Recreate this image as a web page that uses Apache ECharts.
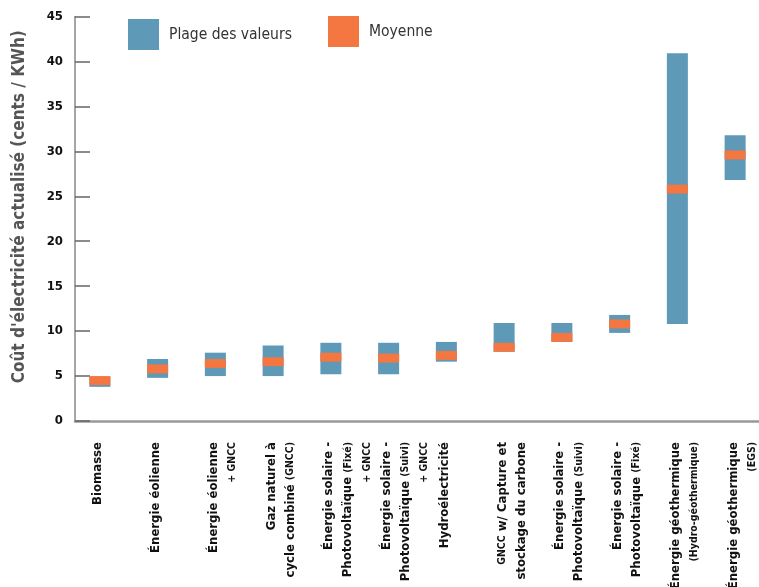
<!DOCTYPE html>
<html>
<head>
<meta charset="utf-8">
<script src="https://cdn.jsdelivr.net/npm/echarts@6/dist/echarts.min.js"></script>
<style>html,body{margin:0;padding:0;background:#fff}#c{width:759px;height:587px}</style>
</head>
<body>
<div id="c"></div>
<script>
const categories = [
  "Biomasse",
  "Énergie éolienne",
  "Énergie éolienne\n{s|+ GNCC}",
  "Gaz naturel à\ncycle combiné {s|(GNCC)}",
  "Énergie solaire -\nPhotovoltaïque {s|(Fixé)}\n{s|+ GNCC}",
  "Énergie solaire -\nPhotovoltaïque {s|(Suivi)}\n{s|+ GNCC}",
  "Hydroélectricité",
  "{s|GNCC} w/ Capture et\nstockage du carbone",
  "Énergie solaire -\nPhotovoltaïque {s|(Suivi)}",
  "Énergie solaire -\nPhotovoltaïque {s|(Fixé)}",
  "Énergie géothermique\n{s|(Hydro-géothermique)}",
  "Énergie géothermique\n{s|(EGS)}"
];
const minValues  = [3.8, 4.8, 5.0, 5.0, 5.2, 5.2, 6.6, 7.7, 8.8, 9.8, 10.8, 26.8];
const maxValues  = [4.9, 6.9, 7.6, 8.4, 8.7, 8.7, 8.8, 10.9, 10.9, 11.8, 40.9, 31.8];
const meanValues = [4.5, 5.8, 6.4, 6.6, 7.1, 7.0, 7.3, 8.2, 9.3, 10.8, 25.8, 29.6];
const meanBand = 0.5;
const yTicks = { min: 0, max: 45, interval: 5 };
const seriesNames = ["Plage des valeurs", "Moyenne"];

const FONT = "'DejaVu Sans Condensed', 'Liberation Sans Narrow', sans-serif";
const BAR_W = 21, BAR_OFF = -4;
const LH = 19;

function rectItem(lowIdx, highIdx) {
  return function (params, api) {
    const x = api.value(0);
    const lo = api.coord([x, api.value(lowIdx)]);
    const hi = api.coord([x, api.value(highIdx)]);
    return {
      type: 'rect',
      shape: { x: lo[0] - BAR_W / 2 + BAR_OFF, y: hi[1], width: BAR_W, height: lo[1] - hi[1] },
      style: api.style()
    };
  };
}

const rangeData = categories.map((c, i) => [i, minValues[i], maxValues[i]]);
const meanData = categories.map((c, i) => [i, meanValues[i] - meanBand, meanValues[i] + meanBand]);

const chart = echarts.init(document.getElementById('c'), null, { renderer: 'canvas' });
chart.setOption({
  animation: false,
  backgroundColor: '#fff',
  textStyle: { fontFamily: FONT },
  legend: [
    { data: [seriesNames[0]], left: 128, top: 19, padding: 0, itemWidth: 31, itemHeight: 31, icon: 'rect',
      textStyle: { fontFamily: FONT, fontSize: 15.5, color: '#333', padding: [0, 0, 0, 5] } },
    { data: [seriesNames[1]], left: 328, top: 16, padding: 0, itemWidth: 31, itemHeight: 31, icon: 'rect',
      textStyle: { fontFamily: FONT, fontSize: 15.5, color: '#333', padding: [0, 0, 0, 5] } }
  ],
  grid: { left: 75, right: -9, top: 16.5, bottom: 166, containLabel: false, outerBoundsMode: 'none' },
  xAxis: {
    type: 'category',
    data: categories,
    axisLine: { lineStyle: { color: '#999', width: 2.5 } },
    axisTick: { inside: true, length: 10, lineStyle: { color: '#222', width: 1.5 } },
    axisLabel: {
      rotate: 90, interval: 0, margin: 21,
      verticalAlign: 'top',
      fontFamily: FONT, fontWeight: 'bold', fontSize: 13, color: '#111', lineHeight: LH,
      padding: [-(LH / 2 + 6), 0, 0, 0],
      rich: { s: { fontFamily: FONT, fontWeight: 'bold', fontSize: 10.5, color: '#111', lineHeight: LH } }
    }
  },
  yAxis: {
    type: 'value', min: yTicks.min, max: yTicks.max, interval: yTicks.interval,
    name: "Coût d'électricité actualisé (cents / KWh)",
    nameLocation: 'middle', nameGap: 47,
    nameTextStyle: { fontFamily: FONT, fontWeight: 'bold', fontSize: 17, color: '#555', padding: [0, 0, 0, 24] },
    axisLine: { show: true, lineStyle: { color: '#888', width: 1.5 } },
    axisTick: { show: true, inside: true, length: 15, lineStyle: { color: '#666', width: 1.5 } },
    axisLabel: { fontFamily: FONT, fontWeight: 'bold', fontSize: 13, color: '#111', margin: 12 },
    splitLine: { show: false }
  },
  series: [
    { name: seriesNames[0], type: 'custom', renderItem: rectItem(1, 2), data: rangeData,
      encode: { x: 0, y: [1, 2] }, itemStyle: { color: '#5F99B8' } },
    { name: seriesNames[1], type: 'custom', renderItem: rectItem(1, 2), data: meanData,
      encode: { x: 0, y: [1, 2] }, itemStyle: { color: '#F47641' } }
  ]
});
</script>
</body>
</html>
